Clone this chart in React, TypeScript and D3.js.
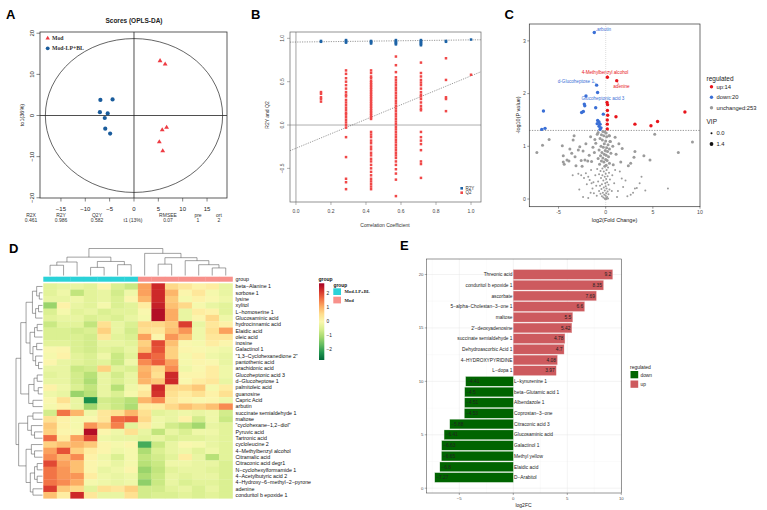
import React from "react";
import * as d3 from "d3";

const SANS = "'Liberation Sans', Arial, Helvetica, sans-serif";
const SERIF = "'Liberation Serif', 'Times New Roman', serif";

// ---------------- Panel A : OPLS-DA scores ----------------
const groupNames = ["Mod", "Mod-LP+BL"];
const medScores: [number, number][] = [[5.35, 13.4], [6.4, 12.6], [6.7, -2.8], [5.8, -3.4], [5.2, -6.3], [5.9, -8.5]];
const lpScores: [number, number][] = [[-6.9, 3.8], [-4.4, 3.9], [-7.0, 0.8], [-5.4, 0.5], [-6.0, -0.6], [-5.9, -3.2], [-4.9, -4.4]];
const aXTicks = [-15, -10, -5, 0, 5, 10, 15];
const aYTicks = [-20, -10, 0, 10, 20];
const statNames = ["R2X", "R2Y", "Q2Y", "RMSEE", "pre", "ort"];
const statValues = ["0.461", "0.986", "0.582", "0.07", "1", "2"];
const ellipseRadii = [18.2, 18.7];

// ---------------- Panel B : permutation test ----------------
const permX = [0.143, 0.286, 0.429, 0.571, 0.714, 0.857, 1.0];
const r2yPerm = [
  [0.97, 0.96],
  [0.98, 0.97, 0.96, 0.95],
  [0.97, 0.96, 0.95, 0.94],
  [0.98, 0.97, 0.96, 0.95, 0.94, 0.93],
  [0.98, 0.97, 0.96, 0.95, 0.94, 0.93, 0.92],
  [0.97, 0.96],
  [0.986],
];
const q2Perm = [
  [0.38, 0.36, 0.32, 0.3, 0.27],
  [0.63, 0.59, 0.54, 0.5, 0.46, 0.42, 0.38, 0.35, 0.33, 0.29, 0.26, 0.23, 0.2, 0.17, 0.14, 0.12, 0.09, 0.06, 0.03, 0.0, -0.03, -0.14, -0.37, -0.62, -0.66, -0.74],
  [0.63, 0.6, 0.56, 0.54, 0.51, 0.49, 0.47, 0.45, 0.43, 0.41, 0.39, 0.37, 0.35, 0.33, 0.31, 0.29, 0.27, 0.25, 0.23, 0.21, 0.19, 0.17, 0.15, 0.13, 0.11, 0.09, 0.07, -0.08, -0.11, -0.14, -0.18, -0.21, -0.25, -0.28, -0.32, -0.35, -0.39, -0.42, -0.46, -0.5, -0.54, -0.58, -0.62, -0.65, -0.68, -0.71, -0.74],
  [0.79, 0.69, 0.61, 0.55, 0.52, 0.49, 0.46, 0.43, 0.4, 0.37, 0.34, 0.31, 0.28, 0.25, 0.22, 0.19, 0.16, 0.13, 0.1, 0.07, 0.04, 0.01, -0.02, -0.05, -0.08, -0.11, -0.14, -0.17, -0.2, -0.23, -0.26, -0.29, -0.32, -0.35, -0.38, -0.42, -0.46, -0.51, -0.56, -0.63, -0.82],
  [0.72, 0.6, 0.56, 0.52, 0.49, 0.46, 0.42, 0.38, 0.35, 0.33, 0.3, 0.26, 0.22, 0.19, 0.17, -0.08, -0.14, -0.18, -0.22, -0.29, -0.42, -0.45, -0.61],
  [0.77, 0.52, 0.32, 0.3, 0.16],
  [0.58],
];
const r2yLine = [0.957, 0.025]; // intercept, slope
const q2Line = [-0.268, 0.835];
const bXTicks = [0, 0.2, 0.4, 0.6, 0.8, 1.0];
const bYTicks = [-0.5, 0, 0.5, 1.0];

// ---------------- Panel C : volcano ----------------
const upPts: [number, number][] = [[0.18, 2.31], [1.17, 2.245], [0.14, 1.83], [0.2, 1.79], [0.18, 1.68], [0.21, 1.59], [1.09, 1.56], [0.17, 1.5], [0.17, 1.42], [0.17, 1.33], [3.1, 1.42], [4.8, 1.39], [5.5, 1.47], [8.4, 1.65]];
const downPts: [number, number][] = [[-1.21, 3.16], [-0.96, 2.16], [-0.86, 2.02], [-2.09, 1.955], [-2.27, 1.8], [-2.22, 1.77], [-1.06, 1.73], [-2.37, 1.66], [-2.55, 1.64], [-6.6, 1.67], [-0.25, 1.61], [-0.85, 1.49], [-0.71, 1.46], [-0.6, 1.42], [-0.9, 1.43], [-0.6, 1.32], [-6.78, 1.32], [-6.43, 1.34], [-0.7, 1.38], [-0.5, 1.35]];
const unchangedPts: [number, number][] = [
  [-7.3, 0.88], [-6.7, 1.02], [-6.0, 1.13], [-4.6, 1.01], [-4.5, 0.82], [-4.5, 0.7], [-4.4, 0.66], [-4.1, 0.74], [-3.8, 0.95], [-3.6, 0.87], [-3.45, 1.12], [-3.35, 1.2], [-3.25, 0.8], [-3.15, 0.63], [-2.9, 0.93], [-2.75, 0.99], [-2.6, 0.73], [-2.4, 0.91], [-2.2, 0.74], [-1.9, 0.72], [-1.75, 0.83], [-1.5, 0.71], [-1.35, 0.98], [-1.15, 1.13], [-1.05, 1.06], [-0.9, 1.23], [-0.8, 1.26], [-2.1, 1.05], [-1.6, 1.18], [-2.5, 0.62], [-3.9, 0.72], [-1.2, 0.88],
  [-3.5, 0.45], [-2.9, 0.48], [-2.6, 0.45], [-2.3, 0.4], [-2.1, 0.49], [-1.85, 0.42], [-1.7, 0.36], [-1.5, 0.3], [-1.4, 0.2], [-1.25, 0.11], [-2.4, 0.04], [-1.85, 0.02], [-1.6, 0.12], [-1.3, 0.32], [-2.0, 0.28], [-1.1, 0.45], [-1.0, 0.25], [-0.95, 0.06], [-2.8, 0.18], [-1.55, 0.55],
  [-0.3, 1.28], [-0.1, 1.27], [0.05, 1.25], [-0.45, 1.22], [-0.2, 1.2], [0.1, 1.18], [0.35, 1.2], [-0.6, 1.15], [-0.35, 1.12], [0.0, 1.1], [0.45, 1.09], [-0.15, 1.05], [0.25, 1.03], [-0.5, 1.0], [-0.25, 0.98], [0.1, 0.97], [0.4, 0.95], [-0.7, 0.93], [-0.05, 0.92], [0.2, 0.9], [-0.4, 0.88], [0.55, 0.87], [-0.15, 0.85], [0.05, 0.83], [-0.55, 0.82], [0.3, 0.8], [-0.3, 0.78], [-0.8, 0.77], [0.0, 0.75], [0.15, 0.73], [-0.45, 0.72], [-0.2, 0.7], [0.4, 0.68], [-0.65, 0.66], [0.05, 0.64], [-0.1, 0.62], [0.25, 0.6], [-0.35, 0.58], [-0.9, 0.57], [0.1, 0.55], [-0.55, 0.53], [-0.2, 0.52], [0.35, 0.5], [0.0, 0.48], [-0.7, 0.47], [-0.35, 0.45], [0.2, 0.43], [-0.1, 0.42], [-0.5, 0.4], [0.05, 0.38], [0.45, 0.37], [-0.25, 0.35], [-0.8, 0.33], [0.15, 0.32], [-0.05, 0.3], [-0.4, 0.28], [0.3, 0.27], [-0.6, 0.25], [0.0, 0.24], [-0.2, 0.22], [0.1, 0.2], [-0.45, 0.19], [0.4, 0.18], [-0.1, 0.16], [-0.7, 0.15], [0.2, 0.14], [-0.3, 0.12], [0.05, 0.11], [-0.55, 0.1], [0.3, 0.09], [-0.15, 0.08], [0.0, 0.06], [-0.4, 0.05], [0.15, 0.04], [-0.25, 0.03], [0.05, 0.02], [-0.1, 0.01], [0.25, 0.01], [-0.05, 0.0], [0.1, 0.0],
  [0.4, 1.2], [0.5, 1.09], [1.0, 1.17], [1.75, 0.96], [2.4, 0.63], [2.65, 0.68], [3.0, 0.79], [3.1, 0.9], [3.8, 0.42], [4.05, 0.82], [4.7, 0.74], [5.2, 1.23], [7.7, 0.88], [9.2, 1.08], [6.6, 0.2], [1.5, 0.52], [1.7, 0.39], [1.85, 0.23], [3.1, 0.2], [3.3, 0.21], [2.65, 0.08], [1.2, 0.04], [0.8, 0.65], [1.1, 0.85], [0.9, 0.3], [1.3, 0.15], [2.1, 0.35], [2.9, 0.12], [0.7, 0.45], [1.6, 0.7], [3.6, 0.3], [2.3, 0.05], [4.2, 0.16], [0.75, 1.0], [1.4, 1.05], [0.65, 0.15], [1.0, 0.55],
];
const volcanoLabels = [
  { name: "arbutin", group: "down", idx: 0 },
  { name: "d-Glucoheptose 1", group: "down", idx: 1 },
  { name: "Glucoheptonic acid 3", group: "down", idx: 3 },
  { name: "4-Methylbenzyl alcohol", group: "up", idx: 0 },
  { name: "adenine", group: "up", idx: 1 },
];
const cXTicks = [-5, 0, 5, 10];
const cYTicks = [0, 1, 2, 3];
const pThreshold = 1.301;

// ---------------- Panel D : heatmap ----------------
const heatRows = [
  "beta\u2212Alanine 1", "sorbose 1", "lysine", "xylitol", "L\u2212homoserine 1", "Glucosaminic acid", "hydrocinnamic acid", "Elaidic acid", "oleic acid", "inosine", "Galactinol 1", "\"1,3\u2212Cyclohexanedione 2\"", "pantothenic acid", "arachidonic acid", "Glucoheptonic acid 3", "d\u2212Glucoheptose 1", "palmitoleic acid", "guanosine", "Capric Acid", "arbutin", "succinate semialdehyde 1", "maltose", "\"cyclohexane\u22121,2\u2212diol\"", "Pyruvic acid", "Tartronic acid", "cycloleucine 2", "4\u2212Methylbenzyl alcohol", "Citramalic acid", "Citraconic acid degr1", "N\u2212cyclohexylformamide 1", "4\u2212Acetylbutyric acid 2", "4\u2212Hydroxy\u22126\u2212methyl\u22122\u2212pyrone", "adenine", "conduritol b epoxide 1",
];
const heatGroups = ["Mod-LP+BL", "Mod-LP+BL", "Mod-LP+BL", "Mod-LP+BL", "Mod-LP+BL", "Mod-LP+BL", "Mod-LP+BL", "Mod", "Mod", "Mod", "Mod", "Mod", "Mod", "Mod"];
const heatValues = [
  [-0.4, -0.3, -0.3, -0.4, 0.1, -0.5, -0.7, 1.2, 2.3, 0.6, 0.4, 0.2, 0.3, -0.3],
  [-0.4, -0.2, -0.8, -0.4, -0.3, -0.6, -0.2, 1.2, 2.3, 1.0, 0.1, 0.4, -0.1, -0.3],
  [-0.3, -0.3, -0.2, -0.4, -0.3, -0.5, 0.1, 1.0, 2.3, 0.8, -0.1, 0.2, 0.0, -0.2],
  [-1.2, 0.2, -0.3, -0.4, -0.1, -0.5, -0.4, 0.3, 2.4, 0.9, 0.6, -0.1, -0.3, -0.4],
  [-0.5, -0.1, -0.4, -0.3, -0.5, -0.4, -0.4, 0.0, 2.6, 1.1, -0.3, 0.3, 0.2, -0.4],
  [-0.4, -0.3, -0.3, -0.5, -0.4, -0.5, -0.3, -0.1, 2.6, 1.1, -0.3, 0.1, 0.6, -0.2],
  [-0.7, -0.4, -0.4, -0.8, 0.5, -0.3, -0.5, 0.6, 0.6, 0.8, 2.1, -0.3, 0.4, 0.2],
  [-0.5, -0.5, -0.6, -0.5, 0.7, -0.3, -0.6, 0.5, 0.4, 0.9, 1.3, -0.2, 0.5, 1.2],
  [-0.5, -0.5, -0.5, -0.6, 0.4, -0.4, -0.5, 1.2, 0.1, 1.3, 0.9, -0.2, 0.4, 0.4],
  [-0.4, -0.4, -0.5, -0.6, -0.3, -0.3, -0.4, 0.7, 2.0, 0.9, 0.0, -0.1, 0.3, 0.1],
  [0.0, 0.1, -0.5, -0.6, -0.4, -0.5, -0.3, 0.9, 1.9, 0.7, 0.1, 0.0, -0.1, -0.2],
  [-0.1, 0.2, -0.4, -0.5, -0.2, -0.7, -0.4, 1.9, 1.7, 0.7, -0.1, 0.2, -0.2, -0.3],
  [0.1, -0.3, -0.4, -0.5, -0.4, -0.7, -0.2, 1.4, 1.8, 1.2, -0.1, 0.1, 0.0, -0.3],
  [-0.3, -0.3, -0.7, -0.6, 0.7, -0.4, -0.5, 1.0, 0.6, 1.4, -0.2, 0.0, 0.3, -0.2],
  [-0.4, -0.3, -0.6, -0.9, -0.3, -0.6, -0.3, 1.1, 0.5, 2.3, 0.1, 0.1, 0.3, -0.2],
  [-0.3, -0.3, -0.6, -1.0, -0.3, -0.5, -0.3, 1.0, 0.8, 2.3, 0.0, 0.3, 0.4, -0.3],
  [0.2, -0.2, -0.5, -0.8, -0.3, -0.9, -0.2, 0.2, 2.3, 0.6, 0.6, 0.8, -0.1, 0.3],
  [-0.2, -0.3, -1.2, -0.9, -0.3, -0.5, -0.1, 0.4, 2.2, 0.5, 0.3, 0.5, 0.2, 0.5],
  [0.0, 0.5, -0.3, -2.3, -0.6, -0.7, -0.9, 1.0, 1.4, 0.4, 0.2, 0.0, 0.1, -0.2],
  [-0.1, 0.2, -0.3, -1.1, -0.5, -0.7, -1.0, 0.3, 0.3, 0.6, 0.9, 0.7, 0.9, 1.4],
  [-0.6, 1.6, 1.0, -0.2, 0.4, 0.5, 1.0, 0.5, -0.4, -0.3, -0.2, -0.3, -0.2, -0.6],
  [0.5, 0.2, -0.1, 0.0, 0.4, 1.7, 1.8, 0.6, -0.2, -0.3, 0.2, -0.6, -0.2, -0.7],
  [0.8, 0.2, -0.1, 1.3, 0.8, 1.5, -0.4, 0.3, -0.2, -0.6, -0.8, -1.1, -0.3, -0.4],
  [0.7, 0.1, 0.0, 2.6, 0.1, -0.2, 0.5, -0.3, -0.8, -0.3, -0.5, -0.2, -0.2, -0.4],
  [1.7, 0.3, 1.2, 2.0, -0.2, -0.3, -0.3, -0.4, -0.3, -0.5, -0.4, -0.4, -0.3, -0.4],
  [0.7, 0.9, 1.0, 0.8, 0.1, -0.1, 0.1, -1.9, -0.7, -0.3, 0.0, -0.1, -0.3, -0.4],
  [1.2, 1.9, 0.7, 0.3, 0.1, -0.2, -0.1, -1.0, -0.5, -0.3, -0.2, -0.4, -0.2, -0.4],
  [1.4, 1.0, 1.4, 0.2, -0.2, -0.5, -0.1, -0.8, -0.6, -0.4, 0.3, -0.3, -0.9, -0.4],
  [2.0, 1.2, 0.9, 0.1, -0.1, -0.3, -0.1, -0.9, -0.7, -0.2, -0.2, -0.3, -0.3, -0.5],
  [1.6, 1.3, 0.9, 0.1, -0.3, -0.2, 0.1, -1.2, -0.8, -0.4, -0.3, -0.3, -0.4, -0.5],
  [1.6, 1.3, 1.3, 0.3, -0.2, -0.3, -0.2, -1.0, -0.7, -0.3, -0.4, -0.3, -0.3, -0.5],
  [1.6, 1.4, 1.1, -0.1, -0.2, -0.3, -0.2, -1.3, -0.7, -0.3, -0.5, -0.4, -0.4, -0.5],
  [2.1, 0.8, 0.6, -0.4, 0.5, 0.4, 0.7, -0.6, -0.6, -0.4, -0.3, -0.5, -0.3, -0.5],
  [0.9, 0.3, 2.3, 0.4, -0.3, -0.3, 0.5, -0.6, -0.5, -0.5, -0.4, -0.5, -0.4, -0.5],
];
type Tree = number | [number, Tree, Tree];
const colTree: Tree = [1.0,
  [0.68, [0.5, [0.38, 0, 1], 2], [0.52, [0.3, 3, 4], [0.4, 5, 6]]],
  [0.82, 7, [0.66, [0.42, 8, 9], [0.55, 10, [0.4, 11, [0.28, 12, 13]]]]],
];
const rowTree: Tree = [1.0,
  [0.82,
    [0.62,
      [0.38, [0.22, 0, [0.12, 1, 2]], [0.26, [0.15, 3, 4], 5]],
      [0.47, [0.3, [0.2, 6, 7], 8], [0.36, [0.22, 9, 10], [0.26, 11, [0.15, 12, 13]]]]],
    [0.52, [0.32, [0.2, 14, 15], [0.16, 16, 17]], [0.36, 18, 19]]],
  [0.9,
    [0.56, [0.36, 20, 21], [0.42, 22, [0.3, 23, 24]]],
    [0.62, [0.42, 25, [0.3, 26, 27]], [0.46, [0.3, [0.2, 28, 29], [0.2, 30, 31]], [0.36, 32, 33]]]],
];
const heatLegendTicks = [-2, -1, 0, 1, 2];
const heatLimit = 2.76;

// ---------------- Panel E : fold change bars ----------------
const upNames = ["Threonic acid", "conduritol b epoxide 1", "ascorbate", "5\u2212alpha\u2212Cholestan\u22123\u2212one 1", "maltose", "2'\u2212deoxyadenosine", "succinate semialdehyde 1", "Dehydroascorbic Acid 1", "4\u2212HYDROXYPYRIDINE", "L\u2212dopa 1"];
const upFC = [9.2, 8.35, 7.69, 6.6, 5.5, 5.42, 4.78, 4.7, 4.08, 3.97];
const downNames = ["L\u2212kynurenine 1", "beta\u2212Glutamic acid 1", "Albendazole 1", "Coprostan\u22123\u2212one", "Citraconic acid 3", "Glucosaminic acid", "Galactinol 1", "Methyl yellow", "Elaidic acid", "D\u2212Arabitol"];
const downFC = [-4.41, -4.5, -4.51, -4.53, -5.88, -6.41, -6.63, -6.65, -6.8, -7.27];
const eXTicks = [-5, 0, 5, 10];
const eYTicks = [0, 5, 10, 15, 20];

// ---------------- helpers ----------------
function dendro(t: Tree, pos: (i: number) => number): { p: number; h: number; segs: number[][] } {
  if (typeof t === "number") return { p: pos(t), h: 0, segs: [] };
  const [h, a, b] = t;
  const L = dendro(a, pos);
  const R = dendro(b, pos);
  return {
    p: (L.p + R.p) / 2,
    h,
    segs: [...L.segs, ...R.segs, [L.p, L.h, L.p, h], [R.p, R.h, R.p, h], [L.p, h, R.p, h]],
  };
}
const minus = (s: string) => s.replace(/-/g, "\u2212");

function PanelA() {
  const x = d3.scaleLinear().domain([-19.3, 19.1]).range([40, 227]);
  const y = d3.scaleLinear().domain([-20.05, 20.3]).range([198, 32]);
  const statX = [31, 61, 97, 168, 198, 219];
  const red = "#EE3B43";
  const blue = "#1A5C9C";
  const tri = (cx: number, cy: number, s: number) => `M${cx},${cy - s}L${cx + s * 1.05},${cy + s * 0.8}L${cx - s * 1.05},${cy + s * 0.8}Z`;
  return (
    <g fontFamily={SANS}>
      <text x={6} y={19} fontSize={13} fontWeight="bold">A</text>
      <text x={134} y={22.5} textAnchor="middle" fontSize={6.5} fontWeight="bold" fill="#222">Scores (OPLS-DA)</text>
      <ellipse cx={x(0)} cy={y(0)} rx={x(ellipseRadii[0]) - x(0)} ry={y(0) - y(ellipseRadii[1])} fill="none" stroke="#222" strokeWidth={0.7} />
      <line x1={x(0)} x2={x(0)} y1={32} y2={198} stroke="#222" strokeWidth={0.8} />
      <line x1={40} x2={227} y1={y(0)} y2={y(0)} stroke="#222" strokeWidth={0.8} />
      <rect x={40} y={32} width={187} height={166} fill="none" stroke="#333" strokeWidth={0.8} />
      {aXTicks.map((t) => (
        <g key={"ax" + t}>
          <line x1={x(t)} x2={x(t)} y1={198} y2={201.5} stroke="#333" strokeWidth={0.6} />
          <text x={x(t)} y={211} textAnchor="middle" fontSize={6} fill="#222">{minus(String(t))}</text>
        </g>
      ))}
      {aYTicks.map((t) => (
        <g key={"ay" + t}>
          <line x1={36.5} x2={40} y1={y(t)} y2={y(t)} stroke="#333" strokeWidth={0.6} />
          <text x={34.5} y={y(t)} transform={`rotate(-90,34.5,${y(t)})`} textAnchor="middle" fontSize={6} fill="#222">{minus(String(t))}</text>
        </g>
      ))}
      <text x={23.5} y={115} transform="rotate(-90,23.5,115)" textAnchor="middle" fontSize={5.5} fill="#222">to1(36%)</text>
      {statNames.map((n, i) => (
        <text key={n} x={statX[i]} y={216.5} textAnchor="middle" fontSize={5} fill="#333">{n}</text>
      ))}
      {statValues.map((v, i) => (
        <text key={"v" + i} x={statX[i]} y={222} textAnchor="middle" fontSize={5} fill="#333">{v}</text>
      ))}
      <text x={133} y={222} textAnchor="middle" fontSize={5} fill="#333">t1 (13%)</text>
      {medScores.map((p, i) => (
        <path key={"m" + i} d={tri(x(p[0]), y(p[1]), 2.3)} fill={red} />
      ))}
      {lpScores.map((p, i) => (
        <circle key={"l" + i} cx={x(p[0])} cy={y(p[1])} r={2.1} fill={blue} />
      ))}
      <path d={tri(47.7, 37.8, 2.1)} fill={red} />
      <circle cx={47.7} cy={48.3} r={1.9} fill={blue} />
      <text x={52} y={39.8} fontSize={5.8} fontFamily={SERIF} fontWeight="bold" fill="#333">{groupNames[0]}</text>
      <text x={52} y={50.3} fontSize={5.8} fontFamily={SERIF} fontWeight="bold" fill="#333">{groupNames[1]}</text>
    </g>
  );
}

function PanelB() {
  const x = d3.scaleLinear().domain([-0.034, 1.057]).range([290, 481]);
  const y = d3.scaleLinear().domain([-0.888, 1.073]).range([202, 32]);
  const red = "#F04848";
  const blue = "#1D63A6";
  const [x0, x1] = x.domain();
  const s = 2.5;
  return (
    <g fontFamily={SANS}>
      <text x={251} y={19} fontSize={13} fontWeight="bold">B</text>
      <defs>
        <clipPath id="clipB"><rect x={290} y={32} width={191} height={170} /></clipPath>
      </defs>
      <line x1={x(0)} x2={x(0)} y1={32} y2={202} stroke="#9a9a9a" strokeWidth={0.9} />
      <line x1={290} x2={481} y1={y(0)} y2={y(0)} stroke="#9a9a9a" strokeWidth={0.8} />
      <g clipPath="url(#clipB)">
        <line x1={x(x0)} x2={x(x1)} y1={y(r2yLine[0] + r2yLine[1] * x0)} y2={y(r2yLine[0] + r2yLine[1] * x1)} stroke="#555" strokeWidth={0.6} strokeDasharray="1.2,1.2" />
        <line x1={x(x0)} x2={x(x1)} y1={y(q2Line[0] + q2Line[1] * x0)} y2={y(q2Line[0] + q2Line[1] * x1)} stroke="#555" strokeWidth={0.6} strokeDasharray="1.2,1.2" />
      </g>
      {q2Perm.map((col, i) => col.map((v, j) => (
        <rect key={`q${i}-${j}`} x={x(permX[i]) - s / 2} y={y(v) - s / 2} width={s} height={s} fill={red} />
      )))}
      {r2yPerm.map((col, i) => col.map((v, j) => (
        <rect key={`r${i}-${j}`} x={x(permX[i]) - s / 2} y={y(v) - s / 2} width={s} height={s} fill={blue} />
      )))}
      <rect x={290} y={32} width={191} height={170} fill="none" stroke="#666" strokeWidth={0.7} />
      {bXTicks.map((t) => (
        <g key={"bx" + t}>
          <line x1={x(t)} x2={x(t)} y1={202} y2={205} stroke="#666" strokeWidth={0.5} />
          <text x={x(t)} y={212.5} textAnchor="middle" fontSize={5} fill="#444">{t.toFixed(1)}</text>
        </g>
      ))}
      {bYTicks.map((t) => (
        <g key={"by" + t}>
          <line x1={287} x2={290} y1={y(t)} y2={y(t)} stroke="#666" strokeWidth={0.5} />
          <text x={284} y={y(t)} transform={`rotate(-90,284,${y(t)})`} textAnchor="middle" fontSize={5} fill="#444">{minus(t.toFixed(1))}</text>
        </g>
      ))}
      <text x={385} y={226.5} textAnchor="middle" fontSize={5} fill="#333">Correlation Coefficient</text>
      <text x={268.5} y={115} transform="rotate(-90,268.5,115)" textAnchor="middle" fontSize={5} fill="#333">R2Y and Q2</text>
      <rect x={460.4} y={187} width={2.6} height={2.6} fill={blue} />
      <rect x={460.4} y={191.4} width={2.6} height={2.6} fill={red} />
      <text x={465.5} y={190} fontSize={4.5} fill="#333">R2Y</text>
      <text x={465.5} y={194.4} fontSize={4.5} fill="#333">Q2</text>
    </g>
  );
}

function PanelC() {
  const x = d3.scaleLinear().domain([-8.1, 10.0]).range([529.3, 700]);
  const y = d3.scaleLinear().domain([-0.146, 3.32]).range([206.7, 24]);
  const red = "#E8141B";
  const blue = "#3A6FD6";
  const gray = "#9B9B9B";
  const pt = (name: string) => {
    const l = volcanoLabels.find((v) => v.name === name)!;
    const p = l.group === "up" ? upPts[l.idx] : downPts[l.idx];
    return [x(p[0]), y(p[1])];
  };
  const a = pt("arbutin"), g1 = pt("d-Glucoheptose 1"), g3 = pt("Glucoheptonic acid 3"), m4 = pt("4-Methylbenzyl alcohol"), ad = pt("adenine");
  return (
    <g fontFamily={SANS}>
      <text x={504.5} y={18.5} fontSize={13} fontWeight="bold">C</text>
      <line x1={x(0)} x2={x(0)} y1={24} y2={206.7} stroke="#c8c8c8" strokeWidth={0.6} strokeDasharray="1,1" />
      <line x1={529.3} x2={700} y1={y(pThreshold)} y2={y(pThreshold)} stroke="#555" strokeWidth={0.6} strokeDasharray="1.3,1.3" />
      {unchangedPts.map((p, i) => (
        <circle key={"g" + i} cx={x(p[0])} cy={y(p[1])} r={p[1] > 0.6 ? 1.5 : 1.0} fill={gray} />
      ))}
      {downPts.map((p, i) => (
        <circle key={"d" + i} cx={x(p[0])} cy={y(p[1])} r={1.7} fill={blue} />
      ))}
      {upPts.map((p, i) => (
        <circle key={"u" + i} cx={x(p[0])} cy={y(p[1])} r={1.7} fill={red} />
      ))}
      <g fontSize={4.6}>
        <line x1={a[0]} y1={a[1]} x2={597} y2={30} stroke={blue} strokeWidth={0.4} />
        <text x={597} y={31} fill={blue}>arbutin</text>
        <text x={605} y={73.5} textAnchor="middle" fill={red}>4-Methylbenzyl alcohol</text>
        <line x1={m4[0]} y1={m4[1]} x2={m4[0]} y2={75} stroke={red} strokeWidth={0.4} />
        <text x={594} y={82.5} textAnchor="end" fill={blue}>d-Glucoheptose 1</text>
        <line x1={g1[0]} y1={g1[1]} x2={594} y2={81.5} stroke={blue} strokeWidth={0.4} />
        <text x={621.5} y={87.5} textAnchor="middle" fill={red}>adenine</text>
        <line x1={ad[0]} y1={ad[1]} x2={619} y2={85} stroke={red} strokeWidth={0.4} />
        <text x={581.5} y={99.5} fill={blue}>Glucoheptonic acid 3</text>
        <line x1={g3[0]} y1={g3[1]} x2={585} y2={97} stroke={blue} strokeWidth={0.4} />
      </g>
      <rect x={529.3} y={24} width={170.7} height={182.7} fill="none" stroke="#333" strokeWidth={0.7} />
      {cXTicks.map((t) => (
        <g key={"cx" + t}>
          <line x1={x(t)} x2={x(t)} y1={206.7} y2={208.7} stroke="#333" strokeWidth={0.5} />
          <text x={x(t)} y={214} textAnchor="middle" fontSize={5.2} fill="#4d4d4d">{String(t)}</text>
        </g>
      ))}
      {cYTicks.map((t) => (
        <g key={"cy" + t}>
          <line x1={527.3} x2={529.3} y1={y(t)} y2={y(t)} stroke="#333" strokeWidth={0.5} />
          <text x={526} y={y(t) + 1.8} textAnchor="end" fontSize={5.2} fill="#4d4d4d">{String(t)}</text>
        </g>
      ))}
      <text x={614.5} y={221.5} textAnchor="middle" fontSize={5.5} fill="#222">log2(Fold Change)</text>
      <text x={519.5} y={115} transform="rotate(-90,519.5,115)" textAnchor="middle" fontSize={5.5} fill="#222">-log10(P value)</text>
      <text x={706.5} y={80.5} fontSize={6.5} fill="#222">regulated</text>
      <circle cx={711.5} cy={86.7} r={1.7} fill={red} />
      <circle cx={711.5} cy={97.2} r={1.7} fill={blue} />
      <circle cx={711.5} cy={107.7} r={1.7} fill={gray} />
      <text x={716.5} y={88.8} fontSize={5.8} fill="#222">up:{upPts.length}</text>
      <text x={716.5} y={99.3} fontSize={5.8} fill="#222">down:{downPts.length}</text>
      <text x={716.5} y={109.8} fontSize={5.8} fill="#222">unchanged:253</text>
      <text x={706.5} y={124} fontSize={6.5} fill="#222">VIP</text>
      <circle cx={711.5} cy={133.3} r={1.0} fill="#111" />
      <circle cx={711.5} cy={144} r={1.9} fill="#111" />
      <text x={716.5} y={135.4} fontSize={5.8} fill="#222">0.0</text>
      <text x={716.5} y={146.1} fontSize={5.8} fill="#222">1.4</text>
    </g>
  );
}

function PanelD() {
  const nCol = heatGroups.length;
  const nRow = heatRows.length;
  const hx = d3.scaleBand<number>().domain(d3.range(nCol)).range([43.3, 232.5]);
  const hy = d3.scaleBand<number>().domain(d3.range(nRow)).range([283.3, 498.3]);
  const color = d3.scaleSequential((t: number) => d3.interpolateRdYlGn(1 - t)).domain([-heatLimit, heatLimit]);
  const groupColor: Record<string, string> = { "Mod-LP+BL": "#2BD2D8", Mod: "#F8918B" };
  const col = dendro(colTree, (i) => hx(i)! + hx.bandwidth() / 2);
  const row = dendro(rowTree, (i) => hy(i)! + hy.bandwidth() / 2);
  const colH = d3.scaleLinear().domain([0, 1]).range([275.5, 248.5]);
  const rowH = d3.scaleLinear().domain([0, 1]).range([42.5, 16]);
  const legY = d3.scaleLinear().domain([-heatLimit, heatLimit]).range([360, 283.3]);
  const stops = d3.range(0, 1.0001, 0.1);
  return (
    <g fontFamily={SANS}>
      <text x={9} y={253} fontSize={13} fontWeight="bold">D</text>
      {col.segs.map((s, i) => (
        <line key={"cd" + i} x1={s[0]} y1={colH(s[1])} x2={s[2]} y2={colH(s[3])} stroke="#555" strokeWidth={0.55} />
      ))}
      {row.segs.map((s, i) => (
        <line key={"rd" + i} x1={rowH(s[1])} y1={s[0]} x2={rowH(s[3])} y2={s[2]} stroke="#555" strokeWidth={0.55} />
      ))}
      {heatGroups.map((g, j) => (
        <rect key={"gb" + j} x={hx(j)!} y={276.7} width={hx.bandwidth() + 0.3} height={5} fill={groupColor[g]} />
      ))}
      {heatValues.map((r, i) => r.map((v, j) => (
        <rect key={`h${i}-${j}`} x={hx(j)!} y={hy(i)!} width={hx.bandwidth() + 0.3} height={hy.bandwidth() + 0.3} fill={color(v)} />
      )))}
      <text x={235.5} y={281.2} fontSize={5.3} fill="#111">group</text>
      {heatRows.map((n, i) => (
        <text key={"rl" + i} x={235.5} y={hy(i)! + hy.bandwidth() / 2 + 1.8} fontSize={5.3} fill="#111">{n}</text>
      ))}
      <defs>
        <linearGradient id="heatGrad" x1="0" y1="1" x2="0" y2="0">
          {stops.map((t) => (
            <stop key={t} offset={`${t * 100}%`} stopColor={color(-heatLimit + t * 2 * heatLimit)} />
          ))}
        </linearGradient>
      </defs>
      <text x={318.5} y={281.3} fontSize={5} fontWeight="bold" fill="#111">group</text>
      <rect x={319} y={283.3} width={5.3} height={76.7} fill="url(#heatGrad)" />
      {heatLegendTicks.map((t) => (
        <text key={"lt" + t} x={326.5} y={legY(t) + 1.6} fontSize={4.8} fill="#222">{minus(String(t))}</text>
      ))}
      <text x={333.5} y={286.5} fontSize={4.8} fontWeight="bold" fill="#111">group</text>
      <rect x={333.3} y={288.3} width={7.7} height={6.7} fill={groupColor["Mod-LP+BL"]} />
      <rect x={333.3} y={296.7} width={7.7} height={6.7} fill={groupColor["Mod"]} />
      <text x={344.5} y={293.2} fontSize={4.6} fontFamily={SERIF} fontWeight="bold" fill="#222">Mod-LP+BL</text>
      <text x={344.5} y={301.6} fontSize={4.6} fontFamily={SERIF} fontWeight="bold" fill="#222">Mod</text>
    </g>
  );
}

function PanelE() {
  const x = d3.scaleLinear().domain([-8.02, 10.04]).range([426.7, 621.7]);
  const y = d3.scaleLinear().domain([-0.45, 21.45]).range([493, 259]);
  const upColor = "#CD5A5E";
  const downColor = "#006400";
  const bh = y(0) - y(0.9);
  const minorX = [-7.5, -2.5, 2.5, 7.5];
  const minorY = [2.5, 7.5, 12.5, 17.5];
  return (
    <g fontFamily={SANS}>
      <text x={400} y={250} fontSize={13} fontWeight="bold">E</text>
      <rect x={426.7} y={259} width={195} height={234} fill="#fff" />
      {minorX.map((t) => <line key={"mx" + t} x1={x(t)} x2={x(t)} y1={259} y2={493} stroke="#F3F3F3" strokeWidth={0.35} />)}
      {minorY.map((t) => <line key={"my" + t} x1={426.7} x2={621.7} y1={y(t)} y2={y(t)} stroke="#F3F3F3" strokeWidth={0.35} />)}
      {eXTicks.map((t) => <line key={"gx" + t} x1={x(t)} x2={x(t)} y1={259} y2={493} stroke="#E6E6E6" strokeWidth={0.5} />)}
      {eYTicks.map((t) => <line key={"gy" + t} x1={426.7} x2={621.7} y1={y(t)} y2={y(t)} stroke="#E6E6E6" strokeWidth={0.5} />)}
      {upFC.map((v, i) => {
        const pos = 20 - i;
        return (
          <g key={"up" + i}>
            <rect x={x(0)} y={y(pos) - bh / 2} width={x(v) - x(0)} height={bh} fill={upColor} stroke="#e9b9ba" strokeWidth={0.3} />
            <text x={x(v) - 1.5} y={y(pos) + 1.7} textAnchor="end" fontSize={4.8} fill="#222">{String(v)}</text>
            <text x={x(0) - 0.8} y={y(pos) + 1.7} textAnchor="end" fontSize={4.8} fill="#222">{upNames[i]}</text>
          </g>
        );
      })}
      {downFC.map((v, i) => {
        const pos = 10 - i;
        return (
          <g key={"dn" + i}>
            <rect x={x(v)} y={y(pos) - bh / 2} width={x(0) - x(v)} height={bh} fill={downColor} stroke="#cfe3cf" strokeWidth={0.3} />
            <text x={x(v) + 1.5} y={y(pos) + 1.7} fontSize={4.8} fill="#222">{minus(String(v))}</text>
            <text x={x(0) + 0.8} y={y(pos) + 1.7} fontSize={4.8} fill="#222">{downNames[i]}</text>
          </g>
        );
      })}
      <rect x={426.7} y={259} width={195} height={234} fill="none" stroke="#333" strokeWidth={0.5} />
      {eXTicks.map((t) => (
        <g key={"ex" + t}>
          <line x1={x(t)} x2={x(t)} y1={493} y2={495} stroke="#333" strokeWidth={0.4} />
          <text x={x(t)} y={500} textAnchor="middle" fontSize={4.3} fill="#4d4d4d">{minus(String(t))}</text>
        </g>
      ))}
      {eYTicks.map((t) => (
        <g key={"ey" + t}>
          <line x1={424.7} x2={426.7} y1={y(t)} y2={y(t)} stroke="#333" strokeWidth={0.4} />
          <text x={423.5} y={y(t) + 1.5} textAnchor="end" fontSize={4.3} fill="#4d4d4d">{String(t)}</text>
        </g>
      ))}
      <text x={523.5} y={507} textAnchor="middle" fontSize={5} fill="#222">log2FC</text>
      <text x={630} y={368.5} fontSize={5} fill="#222">regulated</text>
      <rect x={630.5} y={371} width={7.7} height={7.3} fill={downColor} />
      <rect x={630.5} y={380.5} width={7.7} height={7.3} fill={upColor} />
      <text x={640.5} y={376.5} fontSize={4.8} fill="#222">down</text>
      <text x={640.5} y={386} fontSize={4.8} fill="#222">up</text>
    </g>
  );
}

export default function App() {
  return (
    <svg width={767} height={510} viewBox="0 0 767 510" style={{ position: "absolute", left: 0, top: 0, background: "#fff" }}>
      <rect x={0} y={0} width={767} height={510} fill="#fff" />
      <PanelA />
      <PanelB />
      <PanelC />
      <PanelD />
      <PanelE />
    </svg>
  );
}
